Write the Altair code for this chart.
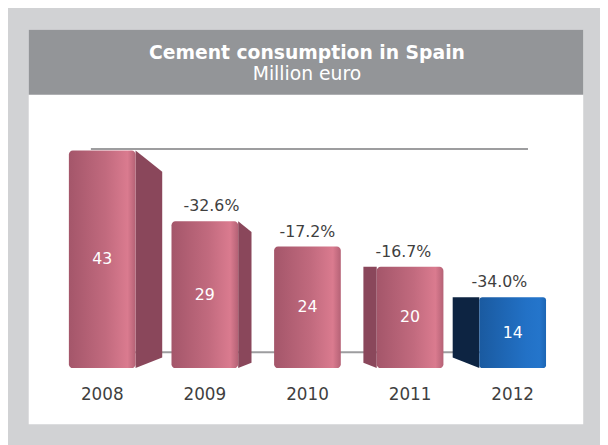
import altair as alt
import pandas as pd

# ---- data ----
years = ["2008", "2009", "2010", "2011", "2012"]
values = [43, 29, 24, 20, 14]
changes = ["", "-32.6%", "-17.2%", "-16.7%", "-34.0%"]
groups = ["past", "past", "past", "past", "latest"]

title_text = "Cement consumption in Spain"
subtitle_text = "Million euro"

FONT = "DejaVu Sans"
PX_PER_UNIT = 5.13     # y pixels per million euro
PX_PER_STEP = 104.0    # x pixels per category step
HALF = 0.325           # half front-face width in steps

df = pd.DataFrame({
    "year": years,
    "value": values,
    "change": changes,
    "group": groups,
    "pos": list(range(len(years))),
})
df["x0"] = df["pos"] - HALF
df["x1"] = df["pos"] + HALF
df["base"] = 0
df["mid"] = df["value"] / 2
df["depth_px"] = (2 - df["pos"]) * 13.5
df["labx"] = df["pos"] + df["depth_px"] / 2 / PX_PER_STEP

# side faces (perspective), derived from the arrays above
rows = []
for i, (yr, v, g) in enumerate(zip(years, values, groups)):
    d = (2 - i) * 13.5
    if d == 0:
        continue
    inner = i + HALF if d > 0 else i - HALF
    outer = inner + d / PX_PER_STEP
    drop = (0.8 * abs(d) if d > 0 else 0.0) / PX_PER_UNIT
    rise = 0.4 * abs(d) / PX_PER_UNIT
    rows.append(dict(year=yr, group=g, sx=inner, top=v, bot=0.0))
    rows.append(dict(year=yr, group=g, sx=outer, top=v - drop, bot=rise))
side = pd.DataFrame(rows)

W, H = 562, 400
BASE_Y = 343
xs = alt.Scale(domain=[-0.5, 4.5], range=[22.5, 542.5], nice=False, zero=False)
ys = alt.Scale(domain=[0, 50], range=[BASE_Y, BASE_Y - 50 * PX_PER_UNIT], nice=False)

one = pd.DataFrame({"a": [0]})

header = alt.Chart(one).mark_rect(color="#939598").encode(
    x=alt.value(0), x2=alt.value(W), y=alt.value(0), y2=alt.value(66)
)
title = alt.Chart(one).mark_text(
    text=title_text, font=FONT, fontSize=19, fontWeight="bold", color="white",
    baseline="alphabetic", align="center"
).encode(x=alt.value(282), y=alt.value(30))
subtitle = alt.Chart(one).mark_text(
    text=subtitle_text, font=FONT, fontSize=19, color="white",
    baseline="alphabetic", align="center"
).encode(x=alt.value(282), y=alt.value(51))

back_line = alt.Chart(one).mark_rule(color="#9d9d9f", strokeWidth=2).encode(
    x=alt.value(63), x2=alt.value(506), y=alt.value(121)
)
floor_line = alt.Chart(one).mark_rule(color="#9d9d9f", strokeWidth=2).encode(
    x=alt.value(63), x2=alt.value(506), y=alt.value(327)
)

sides = alt.Chart(side).mark_area(opacity=1).encode(
    x=alt.X("sx:Q", scale=xs, axis=None),
    y=alt.Y("top:Q", scale=ys, axis=None),
    y2="bot:Q",
    detail="year:N",
    color=alt.Color("group:N", scale=alt.Scale(domain=["past", "latest"],
                                               range=["#8a475b", "#0d2442"]), legend=None),
)

pink = alt.Gradient(
    gradient="linear", x1=0, x2=1, y1=0, y2=0,
    stops=[alt.GradientStop(color="#a4566a", offset=0),
           alt.GradientStop(color="#c16a7e", offset=0.55),
           alt.GradientStop(color="#da7b8f", offset=0.88),
           alt.GradientStop(color="#b56276", offset=1)],
)
blue = alt.Gradient(
    gradient="linear", x1=0, x2=1, y1=0, y2=0,
    stops=[alt.GradientStop(color="#1a5aa0", offset=0),
           alt.GradientStop(color="#2271c6", offset=0.7),
           alt.GradientStop(color="#2475cb", offset=0.9),
           alt.GradientStop(color="#1c65b4", offset=1)],
)

base = alt.Chart(df)
front_enc = dict(
    x=alt.X("x0:Q", scale=xs, axis=None),
    x2="x1:Q",
    y=alt.Y("value:Q", scale=ys, axis=None),
    y2="base:Q",
)
fronts_pink = base.transform_filter(alt.datum.group == "past").mark_rect(
    color=pink, cornerRadius=4).encode(**front_enc)
fronts_blue = base.transform_filter(alt.datum.group == "latest").mark_rect(
    color=blue, cornerRadius=3).encode(**front_enc)

value_labels = base.mark_text(font=FONT, fontSize=16, color="white", baseline="middle").encode(
    x=alt.X("pos:Q", scale=xs, axis=None),
    y=alt.Y("mid:Q", scale=ys, axis=None),
    text="value:Q",
)
change_labels = base.mark_text(font=FONT, fontSize=16, color="#3f3f3f",
                               baseline="alphabetic", dy=-10).encode(
    x=alt.X("labx:Q", scale=xs, axis=None),
    y=alt.Y("value:Q", scale=ys, axis=None),
    text="change:N",
)
year_labels = base.mark_text(font=FONT, fontSize=17, color="#3f3f3f", baseline="alphabetic").encode(
    x=alt.X("pos:Q", scale=xs, axis=None),
    y=alt.value(375),
    text="year:N",
)

chart = alt.layer(
    header, title, subtitle, back_line, floor_line, sides,
    fronts_pink, fronts_blue, value_labels, change_labels, year_labels
).properties(
    width=W, height=H,
    padding={"left": 21, "top": 19, "right": 17, "bottom": 18},
    autosize=alt.AutoSizeParams(type="none"),
    background="#d1d2d4",
).configure_view(fill="white", strokeWidth=0)

chart.save("out.html", embed_options={"renderer": "svg", "actions": False})
